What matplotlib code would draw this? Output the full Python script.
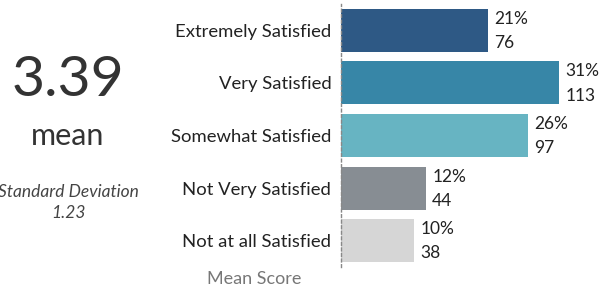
import matplotlib
matplotlib.use("Agg")
import matplotlib.pyplot as plt

categories = ["Extremely Satisfied", "Very Satisfied", "Somewhat Satisfied",
              "Not Very Satisfied", "Not at all Satisfied"]
counts = [76, 113, 97, 44, 38]
percents = [21, 31, 26, 12, 10]
colors = ["#2E5985", "#3786A7", "#67B4C2", "#878D93", "#D6D6D6"]
mean_value = "3.39"
std_value = "1.23"

plt.rcParams["font.family"] = ["Lato", "DejaVu Sans"]

fig = plt.figure(figsize=(6.16, 2.91), dpi=100)
ax = fig.add_axes([341 / 616, 24 / 291, 275 / 616, 263 / 291])

y = list(range(len(categories)))
ax.barh(y, counts, height=0.815, color=colors)
for yi, c, p in zip(y, counts, percents):
    ax.text(c + 3.3, yi - 0.22, f"{p}%", va="center", ha="left", fontsize=12.5, color="#222222")
    ax.text(c + 3.3, yi + 0.24, f"{c}", va="center", ha="left", fontsize=12.5, color="#222222")

ax.set_xlim(0, 142.5)
ax.set_ylim(4.5, -0.5)
ax.set_yticks(y)
ax.set_yticklabels(categories, fontsize=13.3, color="#222222")
ax.tick_params(axis="y", length=0, pad=7)
ax.set_xticks([])
for s in ["top", "right", "bottom"]:
    ax.spines[s].set_visible(False)
ax.spines["left"].set_linestyle((0, (2, 2)))
ax.spines["left"].set_color("#888888")
ax.spines["left"].set_linewidth(1)

# summary on the left
fig.text(68 / 616, 1 - 80 / 291, mean_value, ha="center", va="center", fontsize=41, color="#333333")
fig.text(68 / 616, 1 - 136 / 291, "mean", ha="center", va="center", fontsize=22, color="#333333")
fig.text(68 / 616, 1 - 192 / 291, "Standard Deviation", ha="center", va="center",
         fontsize=12.5, style="italic", color="#444444")
fig.text(68 / 616, 1 - 213 / 291, std_value, ha="center", va="center",
         fontsize=12.5, style="italic", color="#444444")
fig.text(254 / 616, 1 - 279 / 291, "Mean Score", ha="center", va="center", fontsize=13, color="#777777")

fig.savefig("out.png", dpi=100)
